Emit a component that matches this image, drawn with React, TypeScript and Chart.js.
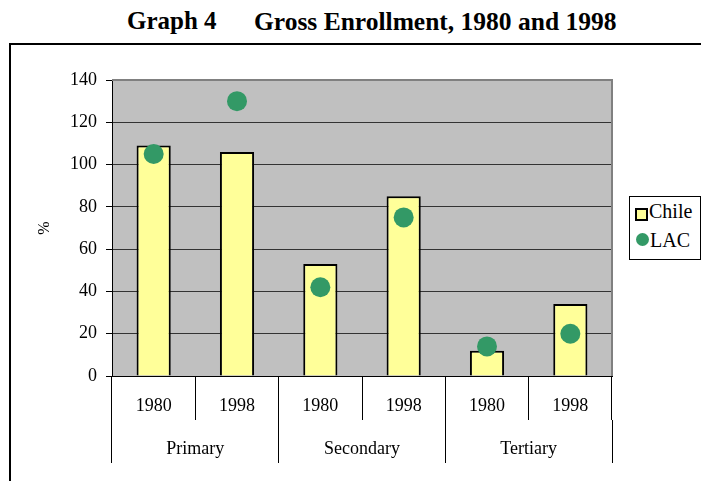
import React, { useEffect, useRef } from "react";
import { Chart, registerables } from "chart.js";

Chart.register(...registerables);

const years = ["1980", "1998", "1980", "1998", "1980", "1998"];
const groups = ["Primary", "Secondary", "Tertiary"];
const chileValues = [109, 106, 53, 85, 12, 34];
const lacValues = [105, 130, 42, 75, 14, 20];
const yTicksMax = 140;
const yTickStep = 20;

const FONT = "Liberation Serif, Times New Roman, serif";

Chart.defaults.font.family = FONT;

const areaPlugin = {
  id: "areaPlugin",
  beforeDraw(chart: any) {
    const { ctx, chartArea } = chart;
    ctx.save();
    ctx.fillStyle = "#C0C0C0";
    ctx.fillRect(chartArea.left, chartArea.top, chartArea.right - chartArea.left, chartArea.bottom - chartArea.top);
    ctx.restore();
  },
  beforeDatasetsDraw(chart: any) {
    const { ctx, chartArea } = chart;
    ctx.save();
    ctx.strokeStyle = "#808080";
    ctx.lineWidth = 2;
    ctx.beginPath();
    ctx.moveTo(chartArea.left, chartArea.top);
    ctx.lineTo(chartArea.right, chartArea.top);
    ctx.lineTo(chartArea.right, chartArea.bottom);
    ctx.stroke();
    ctx.restore();
  },
};

export default function App() {
  const ref = useRef<HTMLCanvasElement | null>(null);
  useEffect(() => {
    if (!ref.current) return;
    const chart = new Chart(ref.current, {
      type: "bar",
      data: {
        labels: years,
        datasets: [
          {
            type: "bar",
            label: "Chile",
            data: chileValues,
            backgroundColor: "#FFFF99",
            borderColor: "#000000",
            borderWidth: 2,
            barPercentage: 0.41,
            categoryPercentage: 1,
            order: 2,
          } as any,
          {
            type: "line",
            label: "LAC",
            data: lacValues,
            showLine: false,
            pointRadius: 10,
            pointHoverRadius: 10,
            pointBackgroundColor: "#339966",
            pointBorderWidth: 0,
            borderColor: "#339966",
            backgroundColor: "#339966",
            order: 1,
          } as any,
        ],
      },
      options: {
        animation: false,
        responsive: false,
        maintainAspectRatio: false,
        layout: { padding: { left: 35, top: 80, right: 89, bottom: 18 } },
        plugins: {
          legend: { display: false },
          tooltip: { enabled: false },
          title: { display: false },
        },
        scales: {
          x: {
            type: "category",
            position: "bottom",
            offset: true,
            weight: 0,
            grid: {
              offset: true,
              drawOnChartArea: false,
              drawTicks: true,
              tickLength: 44,
              color: "#000000",
              lineWidth: 1,
            },
            border: { display: true, color: "#000000", width: 1 },
            ticks: {
              color: "#000000",
              font: { family: FONT, size: 18 },
              padding: -25,
              maxRotation: 0,
              autoSkip: false,
            },
            afterFit: (scale: any) => {
              scale.height = 44;
            },
          } as any,
          xGroup: {
            type: "category",
            position: "bottom",
            labels: groups,
            offset: true,
            weight: 1,
            grid: {
              offset: true,
              drawOnChartArea: false,
              drawTicks: true,
              tickLength: 43,
              color: "#000000",
              lineWidth: 1,
            },
            border: { display: false },
            ticks: {
              color: "#000000",
              font: { family: FONT, size: 18 },
              padding: -25,
              maxRotation: 0,
              autoSkip: false,
            },
            afterFit: (scale: any) => {
              scale.height = 43;
            },
          } as any,
          y: {
            min: 0,
            max: yTicksMax,
            ticks: {
              stepSize: yTickStep,
              color: "#000000",
              font: { family: FONT, size: 18 },
              padding: 9,
            },
            grid: {
              color: (c: any) => (c.tick && c.tick.value === yTicksMax ? "rgba(0,0,0,0)" : "#333333"),
              tickColor: "#000000",
              tickLength: 6,
              lineWidth: 1,
            },
            border: { display: true, color: "#000000", width: 1 },
            title: {
              display: true,
              text: "%",
              color: "#000000",
              font: { family: FONT, size: 16 },
              padding: 0,
            },
            afterFit: (scale: any) => {
              scale.width = 77;
            },
          } as any,
        },
      },
      plugins: [areaPlugin],
    });
    if ((document as any).fonts && (document as any).fonts.ready) {
      (document as any).fonts.ready.then(() => {
        try {
          chart.update();
        } catch (e) {}
      });
    }
    return () => chart.destroy();
  }, []);

  return (
    <div
      style={{
        position: "fixed",
        left: 0,
        top: 0,
        width: 701,
        height: 481,
        overflow: "hidden",
        background: "#ffffff",
        fontFamily: FONT,
      }}
    >
      <div
        style={{
          position: "absolute",
          left: 127,
          top: 7,
          fontWeight: "bold",
          fontSize: 25,
          color: "#000",
          whiteSpace: "pre",
        }}
      >
        Graph 4
      </div>
      <div
        style={{
          position: "absolute",
          left: 254,
          top: 7,
          fontWeight: "bold",
          fontSize: 25.5,
          color: "#000",
          whiteSpace: "pre",
        }}
      >
        Gross Enrollment, 1980 and 1998
      </div>
      <div
        style={{
          position: "absolute",
          left: 9,
          top: 43,
          width: 800,
          height: 800,
          border: "2px solid #000",
          boxSizing: "border-box",
        }}
      />
      <canvas ref={ref} width={701} height={481} style={{ position: "absolute", left: 0, top: 0 }} />
      <div
        style={{
          position: "absolute",
          left: 629,
          top: 196,
          width: 72,
          height: 64,
          border: "1px solid #000",
          boxSizing: "border-box",
          background: "#fff",
          fontSize: 20,
          color: "#000",
        }}
      >
        <div style={{ position: "absolute", left: 5, top: 11, width: 9, height: 9, border: "2px solid #000", background: "#FFFF99" }} />
        <div style={{ position: "absolute", left: 19, top: 3, lineHeight: "22px" }}>Chile</div>
        <div style={{ position: "absolute", left: 6, top: 36, width: 13, height: 13, borderRadius: "50%", background: "#339966" }} />
        <div style={{ position: "absolute", left: 20, top: 32, lineHeight: "22px" }}>LAC</div>
      </div>
    </div>
  );
}
